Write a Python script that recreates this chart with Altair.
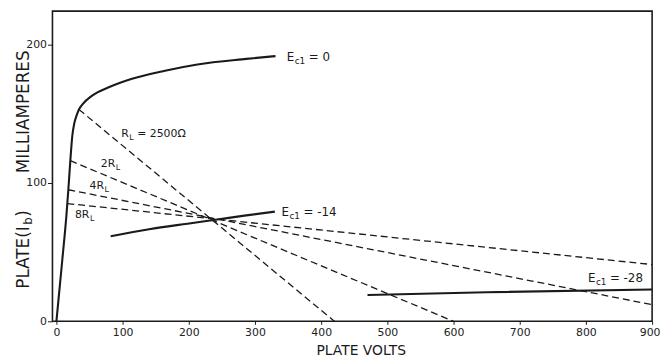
import altair as alt
import pandas as pd

# ---- data (plate volts, plate milliamperes) ----
ec0_v = [0, 9, 15, 18, 21, 24, 27, 30, 34, 39, 54, 79, 113, 164, 213, 287, 331]
ec0_i = [0, 45, 76, 95, 116, 134, 143, 148, 153, 156.5, 163, 169, 175, 181, 185.5, 189.5, 191.5]

ec14_v = [82, 140, 198, 243, 284, 330]
ec14_i = [61.5, 66.5, 70.5, 73.5, 76.3, 79.2]

ec28_v = [470, 650, 900]
ec28_i = [19, 21, 23]

rl1_v, rl1_i = [34, 420], [153, 0]
rl2_v, rl2_i = [21, 600], [116, 0]
rl4_v, rl4_i = [18, 900], [95, 12]
rl8_v, rl8_i = [16.5, 900], [85, 41]

x_ticks = [0, 100, 200, 300, 400, 500, 600, 700, 800, 900]
y_ticks = [0, 100, 200]

# annotations: (main, subscript, rest), anchor in data units
label_parts = [("E", "c1", "= 0"), ("R", "L", "= 2500Ω"), ("2R", "L", ""),
               ("4R", "L", ""), ("8R", "L", ""), ("E", "c1", "= -14"),
               ("E", "c1", "= -28")]
label_v = [348, 98, 67, 50, 28, 340, 803]
label_i = [191, 135.5, 113.5, 98, 77, 79, 31]

x_title = "PLATE VOLTS"
y_title_parts = ("PLATE(I", "b", ")")
y_title_2 = "MILLIAMPERES"

# ---- build tables ----
solid = [("Ec1=0", ec0_v, ec0_i), ("Ec1=-14", ec14_v, ec14_i), ("Ec1=-28", ec28_v, ec28_i)]
dashed = [("RL", rl1_v, rl1_i), ("2RL", rl2_v, rl2_i), ("4RL", rl4_v, rl4_i), ("8RL", rl8_v, rl8_i)]


def to_df(series):
    rows = []
    for name, vs, is_ in series:
        for k, (v, i) in enumerate(zip(vs, is_)):
            rows.append({"series": name, "v": v, "i": i, "order": k})
    return pd.DataFrame(rows)


df_solid = to_df(solid)
df_dash = to_df(dashed)

W = {'0': .636, '1': .636, '2': .636, '3': .636, '4': .636, '5': .636, '6': .636,
     '7': .636, '8': .636, '9': .636, ' ': .318, '=': .838, '-': .361, 'E': .632,
     'R': .695, 'L': .557, 'c': .55, 'Ω': .764, 'P': .603, 'A': .684, 'T': .611,
     '(': .39, ')': .39, 'I': .295, 'b': .635}


def tw(s, size):
    return sum(W.get(ch, .62) for ch in s) * size


FONT = "DejaVu Sans"
INK = "#1a1a1a"

x_scale = alt.Scale(domain=[-6, 900], nice=False, zero=False)
y_scale = alt.Scale(domain=[0, 224], nice=False)

X = alt.X("v:Q", scale=x_scale,
          axis=alt.Axis(values=x_ticks, title=x_title, grid=False, domain=False,
                        tickSize=3, tickColor=INK, labelPadding=2, labelFontSize=11,
                        labelFont=FONT, labelColor="#222", titleFont=FONT,
                        titleFontSize=14, titleFontWeight="normal", titleColor=INK,
                        titleBaseline="alphabetic", titleY=34, titleX=312,
                        titleAlign="center", labelFlush=False,
                        labelAlign=alt.condition("datum.value == 900",
                                                 alt.value("right"), alt.value("center")),
                        labelOffset=alt.condition("datum.value == 900",
                                                  alt.value(8), alt.value(0))))
Y = alt.Y("i:Q", scale=y_scale,
          axis=alt.Axis(values=y_ticks, title=None, grid=False, domain=False,
                        tickSize=5, tickColor=INK, labelPadding=1, labelFontSize=11,
                        labelFont=FONT, labelColor="#222"))

lines_solid = alt.Chart(df_solid).mark_line(
    color=INK, strokeWidth=2.1, interpolate="monotone"
).encode(x=X, y=Y, detail="series:N", order="order:Q")

lines_dash = alt.Chart(df_dash).mark_line(
    color=INK, strokeWidth=1.3, strokeDash=[7, 4]
).encode(x=alt.X("v:Q", scale=x_scale), y=alt.Y("i:Q", scale=y_scale),
         detail="series:N", order="order:Q")

layers = [lines_dash, lines_solid]

for (pre, sub, post), v, i in zip(label_parts, label_v, label_i):
    big = 12 if pre == "E" else 11
    small = 9 if pre == "E" else 8
    d = pd.DataFrame({"v": [v], "i": [i]})
    enc = dict(x=alt.X("v:Q", scale=x_scale), y=alt.Y("i:Q", scale=y_scale))
    layers.append(alt.Chart(d).mark_text(text=pre, align="left", baseline="middle",
                                         font=FONT, fontSize=big, color=INK).encode(**enc))
    layers.append(alt.Chart(d).mark_text(text=sub, align="left", baseline="middle",
                                         font=FONT, fontSize=small, color=INK,
                                         dx=tw(pre, big) + 0.5, dy=4).encode(**enc))
    if post:
        layers.append(alt.Chart(d).mark_text(text=post, align="left", baseline="middle",
                                             font=FONT, fontSize=big, color=INK,
                                             dx=tw(pre, big) + tw(sub, small) + 4).encode(**enc))

# rotated y-axis title
YT = 17
one = pd.DataFrame({"k": [0]})
layers.append(alt.Chart(one).mark_text(text=y_title_parts[0], angle=270, align="left",
                                       baseline="middle", font=FONT, fontSize=YT, color=INK)
              .encode(x=alt.value(-29), y=alt.value(281)))
layers.append(alt.Chart(one).mark_text(text=y_title_parts[1], angle=270, align="left",
                                       baseline="middle", font=FONT, fontSize=12, color=INK,
                                       dx=tw(y_title_parts[0], YT) + 0.5, dy=4)
              .encode(x=alt.value(-29), y=alt.value(281)))
layers.append(alt.Chart(one).mark_text(text=y_title_parts[2], angle=270, align="left",
                                       baseline="middle", font=FONT, fontSize=YT, color=INK,
                                       dx=tw(y_title_parts[0], YT) + tw("b", 12) + 1)
              .encode(x=alt.value(-29), y=alt.value(281)))
layers.append(alt.Chart(one).mark_text(text=y_title_2, angle=270, align="left",
                                       baseline="middle", font=FONT, fontSize=YT, color=INK)
              .encode(x=alt.value(-29), y=alt.value(164)))

chart = alt.layer(*layers).properties(
    width=607, height=314,
    autosize=alt.AutoSizeParams(type="none"),
    padding={"left": 45, "top": 1, "right": 9, "bottom": 36},
    background="white",
).configure_view(stroke=INK, strokeWidth=1.6)

chart.save("out.html", embed_options={"renderer": "svg", "actions": False})
